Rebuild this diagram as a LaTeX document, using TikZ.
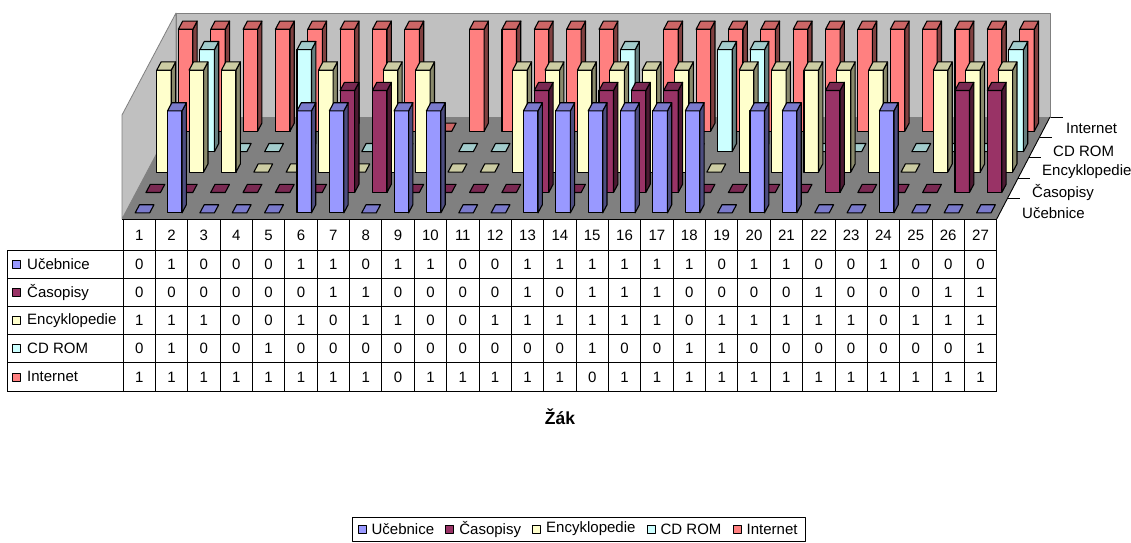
\documentclass[tikz,border=0pt]{standalone}
\usepackage{fontspec}
\setmainfont{Liberation Sans}
\usetikzlibrary{positioning}
\definecolor{ucF}{HTML}{9999FF}\definecolor{ucT}{HTML}{7A7ACC}\definecolor{ucS}{HTML}{4D4D80}
\definecolor{caF}{HTML}{993366}\definecolor{caT}{HTML}{7A2952}\definecolor{caS}{HTML}{4D1A33}
\definecolor{enF}{HTML}{FFFFCC}\definecolor{enT}{HTML}{CCCCA3}\definecolor{enS}{HTML}{8A8A6C}
\definecolor{cdF}{HTML}{CCFFFF}\definecolor{cdT}{HTML}{A3CCCC}\definecolor{cdS}{HTML}{668080}
\definecolor{inF}{HTML}{FF8080}\definecolor{inT}{HTML}{CC6666}\definecolor{inS}{HTML}{804040}
\definecolor{wallgray}{HTML}{C0C0C0}\definecolor{floorgray}{HTML}{808080}
\newcommand\tf{\fontsize{15}{18}\selectfont}
\def\dataU{0,1,0,0,0,1,1,0,1,1,0,0,1,1,1,1,1,1,0,1,1,0,0,1,0,0,0}
\def\dataC{0,0,0,0,0,0,1,1,0,0,0,0,1,0,1,1,1,0,0,0,0,1,0,0,0,1,1}
\def\dataE{1,1,1,0,0,1,0,1,1,0,0,1,1,1,1,1,1,0,1,1,1,1,1,0,1,1,1}
\def\dataD{0,1,0,0,1,0,0,0,0,0,0,0,0,0,1,0,0,1,1,0,0,0,0,0,0,0,1}
\def\dataI{1,1,1,1,1,1,1,1,0,1,1,1,1,1,0,1,1,1,1,1,1,1,1,1,1,1,1}
\newcommand\drawseries[5]{%
  \foreach \v [count=\i] in #2 {
    \pgfmathsetmacro\f{(#1+0.5)/5-0.04}
    \pgfmathsetmacro\xl{123+32.36*(\i-0.5)+54*\f-7.25}
    \pgfmathsetmacro\xr{\xl+14.5}
    \pgfmathsetmacro\yb{219-102*\f}
    \pgfmathsetmacro\yt{\yb-102*\v}
    \ifnum\v=1
      \filldraw[barline,fill=#3] (\xl,\yb) rectangle (\xr,\yt);
      \filldraw[barline,fill=#5] (\xr,\yb) -- ++(4.32,-8.16) -- (\xr+4.32,\yt-8.16) -- (\xr,\yt) -- cycle;
    \fi
    \filldraw[barline,fill=#4] (\xl,\yt) -- (\xr,\yt) -- ++(4.32,-8.16) -- ++(-14.5,0) -- cycle;
  }}
% table row: #1 row number, #2 label, #3 colour, #4 data macro
\newcommand\tablerow[4]{%
  \pgfmathsetmacro\yc{250+28.2*(#1-0.5)}
  \node[legmark,fill=#3] (rm#1) at (16,\yc) {};
  \node[txt] (rl#1) at (27,\yc) {#2};
  \foreach \v [count=\i] in #4 {\node (c#1-\i) at (123+32.36*\i-16.18,\yc) {\v};}
}
\begin{document}
\begin{tikzpicture}[x=1pt,y=-1pt,line join=round,font=\tf,
  barline/.style={draw=black,line width=1.1pt},
  tabline/.style={draw=black,line width=0.8pt},
  legmark/.style={draw=black,line width=0.8pt,minimum size=8pt,inner sep=0pt},
  txt/.style={inner sep=0pt,anchor=west}]
\useasboundingbox (0,0) rectangle (1131,542);
\fill[white] (0,0) rectangle (1131,542);
% walls and floor
\filldraw[fill=wallgray,draw=floorgray,line width=0.8pt] (122,219) -- (122,115) -- (176,13) -- (176,117) -- cycle;
\filldraw[fill=wallgray,draw=floorgray,line width=0.8pt] (176,13) rectangle (1050,117);
\fill[floorgray] (122,219) -- (996.7,219) -- (1050,117) -- (176,117) -- cycle;
\draw[black,line width=0.9pt] (996.7,219) -- (1050,117);
\foreach \f in {0.2,0.4,0.6,0.8,1.0}
  \draw[black,line width=0.9pt] (996.7+54*\f,219-102*\f) -- ++(12,0);
% bars, back to front
\drawseries{4}{\dataI}{inF}{inT}{inS}
\drawseries{3}{\dataD}{cdF}{cdT}{cdS}
\drawseries{2}{\dataE}{enF}{enT}{enS}
\drawseries{1}{\dataC}{caF}{caT}{caS}
\drawseries{0}{\dataU}{ucF}{ucT}{ucS}
% series labels on the depth axis
\node[txt] (sI) at (1066,128) {Internet};
\node[txt] (sD) at (1053,151) {CD ROM};
\node[txt] (sE) at (1042,172) {Encyklopedie};
\node[txt] (sC) at (1032,192) {Časopisy};
\node[txt] (sU) at (1022,213) {Učebnice};
% table
\draw[tabline] (122,219) -- (996.7,219);
\foreach \i in {0,...,27} \draw[tabline] (123+32.36*\i,219) -- (123+32.36*\i,391);
\draw[tabline] (7,250) rectangle (123,391);
\foreach \y in {250,278.2,306.4,334.6,362.8,391} \draw[tabline] (7,\y) -- (996.7,\y);
\foreach \i in {1,...,27} \node (h\i) at (123+32.36*\i-16.18,235) {\i};
\tablerow{1}{Učebnice}{ucF}{\dataU}
\tablerow{2}{Časopisy}{caF}{\dataC}
\tablerow{3}{Encyklopedie}{enF}{\dataE}
\tablerow{4}{CD ROM}{cdF}{\dataD}
\tablerow{5}{Internet}{inF}{\dataI}
\node[font=\bfseries\fontsize{17.5}{20}\selectfont] (ax) at (560,417) {Žák};
% legend
\node[legmark,fill=ucF] (m1) at (362,529) {};
\node[txt,right=5pt of m1] (t1) {Učebnice};
\node[legmark,fill=caF,right=11pt of t1] (m2) {};
\node[txt,right=5pt of m2] (t2) {Časopisy};
\node[legmark,fill=enF,right=11pt of t2] (m3) {};
\node[txt,right=5pt of m3] (t3) {Encyklopedie};
\node[legmark,fill=cdF,right=11pt of t3] (m4) {};
\node[txt,right=5pt of m4] (t4) {CD ROM};
\node[legmark,fill=inF,right=11pt of t4] (m5) {};
\node[txt,right=5pt of m5] (t5) {Internet};
\draw[black,line width=0.8pt] (352,517) rectangle ([xshift=8pt]t5.east |- 0,541);
\end{tikzpicture}
\end{document}
